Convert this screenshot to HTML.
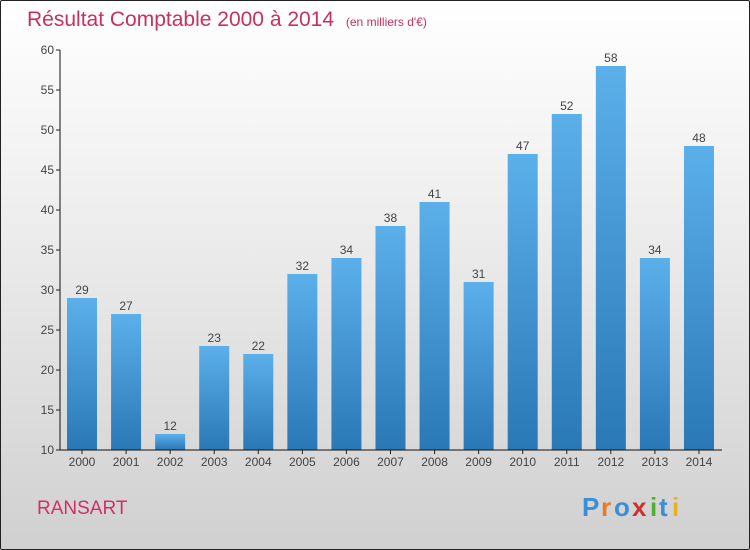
<!DOCTYPE html>
<html><head><meta charset="utf-8"><style>
body{margin:0;width:750px;height:550px;overflow:hidden}
#wrap{position:absolute;left:0;top:0;width:748px;height:548px;border:1px solid #222;background:linear-gradient(#ffffff,#f2f2f2 30%,#d0d0d0);border-radius:2px}
text{font-family:"Liberation Sans",sans-serif}
</style></head><body>
<div id="wrap">
<svg id="c" width="750" height="550" style="position:absolute;left:-1px;top:-1px">
<defs><linearGradient id="g" x1="0" y1="0" x2="0" y2="1"><stop offset="0" stop-color="#5bb0ea"/><stop offset="1" stop-color="#2a78b6"/></linearGradient></defs>
<text x="27" y="26" font-size="21" fill="#c8305e">Résultat Comptable 2000 à 2014 <tspan font-size="12" dx="6">(en milliers d'€)</tspan></text>
<text x="37" y="514" font-size="19" fill="#d0306a">RANSART</text>
<g font-size="26" font-weight="bold">
<text x="582" y="516" fill="#3a8fd8">P</text><text x="601" y="516" fill="#e87a20">r</text><text x="614" y="516" fill="#3a8fd8">o</text><text x="632" y="516" fill="#d03030">x</text><text x="650" y="516" fill="#50b030">i</text><text x="659" y="516" fill="#3a8fd8">t</text><text x="672" y="516" fill="#e8b020">i</text>
</g>
<g id="plot"></g>
</svg></div>
<script>
const years=["2000","2001","2002","2003","2004","2005","2006","2007","2008","2009","2010","2011","2012","2013","2014"];
const values=[29,27,12,23,22,32,34,38,41,31,47,52,58,34,48];
const yTicks=[10,15,20,25,30,35,40,45,50,55,60];
const NS="http://www.w3.org/2000/svg";
const g=document.getElementById('plot');
const y0=450,yTop=50,vMin=10,vMax=60;
const y=v=>y0-(v-vMin)/(vMax-vMin)*(y0-yTop);
const x=i=>82+i*44.07;
function mk(t,a){const e=document.createElementNS(NS,t);for(const k in a)e.setAttribute(k,a[k]);g.appendChild(e);return e;}
yTicks.forEach(v=>{
 const l=mk('line',{x1:56,x2:60,y1:y(v),y2:y(v),stroke:'#222'});
 
 
 const t=mk('text',{x:54,y:y(v)+4,'text-anchor':'end','font-size':12,fill:'#444'});t.textContent=v;
 
 
});
values.forEach((v,i)=>{
 const r=mk('rect',{x:x(i)-15,y:y(v),width:30,height:y0-y(v),fill:'url(#g)'});
 
 
 const t=mk('text',{x:x(i),y:y(v)-4,'text-anchor':'middle','font-size':12,fill:'#444'});t.textContent=v;
 
 
 const k=mk('line',{x1:x(i),x2:x(i),y1:450,y2:454,stroke:'#222'});
 
 
 const xl=mk('text',{x:x(i),y:466,'text-anchor':'middle','font-size':12,fill:'#444'});xl.textContent=years[i];
 
 
});
const ya=mk('line',{x1:60,x2:60,y1:50,y2:450,stroke:'#111'});


const xa=mk('line',{x1:60,x2:722,y1:450,y2:450,stroke:'#111'});


</script>
</body></html>
